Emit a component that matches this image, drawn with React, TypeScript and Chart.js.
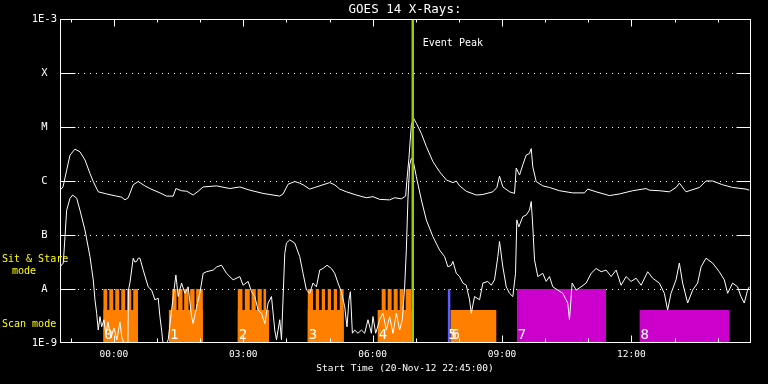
import { useEffect, useRef } from 'react';
import { Chart, registerables } from 'chart.js';

Chart.register(...registerables);

// Time axis: hours since start (20-Nov-12 22:45:00)
const X_MIN = 0;
const X_MAX = 16;
const hourTicks = [0.25, 1.25, 2.25, 3.25, 4.25, 5.25, 6.25, 7.25, 8.25, 9.25, 10.25, 11.25, 12.25, 13.25, 14.25, 15.25];
const majorTickHours = [1.25, 4.25, 7.25, 10.25, 13.25];
const majorTickLabels = ['00:00', '03:00', '06:00', '09:00', '12:00'];

// Flux axis (W/m^2), log scale
const yTickValues = [1e-9, 1e-8, 1e-7, 1e-6, 1e-5, 1e-4, 1e-3];
const yTickLabels = ['1E-9', 'A', 'B', 'C', 'M', 'X', '1E-3'];
const classLineValues = [1e-8, 1e-7, 1e-6, 1e-5, 1e-4];

// GOES 14 long channel (1-8 A): [hours since start, log10 flux]
const longChannel: [number, number][] = [
  [0.00, -6.17], [0.07, -6.11], [0.155, -5.80], [0.232, -5.52], [0.347, -5.41], [0.463, -5.46], [0.579, -5.61], [0.695, -5.86], [0.771, -6.01], [0.887, -6.20],
  [1.082, -6.24], [1.313, -6.28], [1.429, -6.30], [1.506, -6.35], [1.582, -6.31], [1.698, -6.07], [1.814, -6.01], [1.969, -6.09], [2.085, -6.14], [2.317, -6.22],
  [2.472, -6.28], [2.625, -6.28], [2.687, -6.14], [2.819, -6.18], [2.942, -6.19], [3.088, -6.26], [3.204, -6.19], [3.319, -6.11], [3.630, -6.09], [3.938, -6.14],
  [4.170, -6.11], [4.401, -6.17], [4.709, -6.23], [5.096, -6.28], [5.173, -6.24], [5.288, -6.06], [5.444, -6.01], [5.559, -6.04], [5.636, -6.07], [5.791, -6.15],
  [5.907, -6.12], [6.099, -6.07], [6.254, -6.03], [6.370, -6.07], [6.486, -6.15], [6.641, -6.20], [6.873, -6.26], [7.104, -6.31], [7.257, -6.29], [7.413, -6.34],
  [7.644, -6.35], [7.760, -6.31], [7.915, -6.33], [8.015, -6.28], [8.045, -5.98], [8.091, -5.58], [8.147, -4.96], [8.200, -4.84], [8.263, -4.93], [8.379, -5.12],
  [8.494, -5.36], [8.647, -5.64], [8.802, -5.83], [8.958, -5.98], [9.111, -6.03], [9.189, -6.00], [9.266, -6.09], [9.421, -6.19], [9.653, -6.26], [9.806, -6.25],
  [10.037, -6.20], [10.130, -6.12], [10.192, -5.91], [10.269, -6.11], [10.424, -6.20], [10.540, -6.23], [10.579, -5.76], [10.656, -5.89], [10.732, -5.70], [10.811, -5.52],
  [10.887, -5.49], [10.927, -5.40], [10.964, -5.74], [11.042, -6.01], [11.195, -6.09], [11.350, -6.12], [11.582, -6.18], [11.890, -6.22], [12.161, -6.22], [12.238, -6.15],
  [12.432, -6.20], [12.740, -6.27], [12.972, -6.24], [13.280, -6.18], [13.590, -6.14], [13.667, -6.17], [13.898, -6.18], [14.130, -6.20], [14.285, -6.12], [14.362, -6.04],
  [14.517, -6.20], [14.825, -6.12], [14.980, -6.00], [15.133, -6.00], [15.365, -6.07], [15.597, -6.12], [15.907, -6.15], [15.984, -6.17],
];

// GOES 14 short channel (0.5-4 A): [hours since start, log10 flux]
const shortChannel: [number, number][] = [
  [0.000, -7.59], [0.076, -7.52], [0.116, -7.03], [0.155, -6.54], [0.232, -6.32], [0.294, -6.26], [0.387, -6.32], [0.463, -6.54], [0.579, -6.91], [0.695, -7.40],
  [0.771, -7.83], [0.811, -8.20], [0.850, -8.45], [0.887, -8.76], [0.927, -8.51], [0.966, -8.70], [1.019, -8.57], [1.066, -8.85], [1.112, -8.61], [1.181, -8.91],
  [1.251, -8.72], [1.320, -8.94], [1.390, -8.61], [1.436, -8.91], [1.506, -9.04], [1.575, -9.04], [1.587, -8.02], [1.621, -7.89], [1.698, -7.43], [1.737, -7.50],
  [1.777, -7.49], [1.814, -7.43], [1.853, -7.43], [1.930, -7.65], [2.045, -7.96], [2.124, -8.02], [2.201, -8.20], [2.277, -8.17], [2.317, -8.51], [2.356, -8.76],
  [2.393, -9.04], [2.455, -9.04], [2.509, -8.94], [2.625, -8.14], [2.687, -7.74], [2.740, -8.14], [2.819, -7.89], [2.896, -8.08], [2.972, -7.96], [3.051, -8.51],
  [3.088, -8.64], [3.167, -8.33], [3.243, -8.08], [3.319, -7.71], [3.398, -7.68], [3.551, -7.65], [3.637, -7.59], [3.746, -7.56], [3.861, -7.71], [4.014, -7.83],
  [4.170, -7.77], [4.246, -7.93], [4.362, -7.86], [4.441, -8.05], [4.517, -8.14], [4.593, -8.39], [4.672, -8.45], [4.749, -8.64], [4.825, -8.26], [4.904, -8.14],
  [4.980, -8.76], [5.020, -8.94], [5.096, -8.57], [5.136, -8.94], [5.212, -7.34], [5.251, -7.15], [5.328, -7.09], [5.444, -7.15], [5.559, -7.40], [5.636, -7.71],
  [5.715, -8.02], [5.791, -8.08], [5.867, -7.89], [5.946, -7.96], [6.023, -7.65], [6.099, -7.62], [6.192, -7.56], [6.294, -7.62], [6.370, -7.71], [6.447, -7.89],
  [6.525, -8.05], [6.602, -8.33], [6.655, -8.70], [6.701, -8.20], [6.734, -8.05], [6.780, -8.82], [6.834, -8.76], [6.910, -8.82], [6.989, -8.76], [7.065, -8.82],
  [7.142, -8.57], [7.220, -8.82], [7.257, -8.51], [7.320, -8.82], [7.413, -8.57], [7.489, -8.45], [7.568, -8.76], [7.644, -8.51], [7.721, -8.82], [7.800, -8.45],
  [7.876, -8.76], [7.938, -8.57], [7.992, -7.96], [8.031, -7.28], [8.068, -6.35], [8.108, -5.70], [8.147, -5.58], [8.200, -5.67], [8.263, -5.92], [8.379, -6.35],
  [8.494, -6.72], [8.647, -7.03], [8.802, -7.28], [8.918, -7.40], [8.995, -7.59], [9.073, -7.56], [9.111, -7.49], [9.189, -7.71], [9.266, -7.77], [9.342, -7.89],
  [9.421, -7.93], [9.497, -8.20], [9.537, -8.45], [9.613, -8.14], [9.729, -8.20], [9.806, -7.89], [9.921, -7.86], [10.000, -7.93], [10.076, -7.83], [10.153, -7.40],
  [10.192, -7.12], [10.269, -7.59], [10.348, -7.96], [10.424, -8.08], [10.500, -8.14], [10.563, -7.71], [10.593, -6.72], [10.639, -6.85], [10.732, -6.66], [10.811, -6.63],
  [10.887, -6.54], [10.927, -6.38], [10.964, -6.85], [11.003, -7.46], [11.080, -7.77], [11.195, -7.71], [11.274, -7.86], [11.350, -7.77], [11.427, -7.96], [11.543, -8.02],
  [11.658, -8.08], [11.774, -8.26], [11.814, -8.57], [11.876, -7.89], [11.969, -8.02], [12.084, -7.96], [12.200, -7.89], [12.316, -7.71], [12.432, -7.62], [12.548, -7.68],
  [12.664, -7.65], [12.780, -7.77], [12.896, -7.65], [13.011, -7.93], [13.127, -7.77], [13.243, -7.86], [13.359, -7.80], [13.475, -7.93], [13.628, -7.68], [13.743, -7.80],
  [13.898, -7.89], [14.014, -8.08], [14.090, -8.39], [14.169, -8.08], [14.285, -7.83], [14.362, -7.52], [14.438, -7.89], [14.554, -8.26], [14.670, -8.02], [14.786, -7.89],
  [14.865, -7.59], [14.980, -7.43], [15.133, -7.52], [15.288, -7.68], [15.404, -7.83], [15.481, -8.08], [15.597, -7.89], [15.712, -7.96], [15.791, -8.14], [15.867, -8.26],
  [15.944, -8.02], [15.984, -7.96],
];

// Observation modes: [start hour, end hour]
const STARE_LEVEL = 1e-8;
const SCAN_LEVEL = 4.1e-9;
const orangeScan: [number, number][] = [[1.003, 1.807], [2.525, 3.312], [4.123, 4.848], [5.745, 6.578], [7.366, 8.154], [9.057, 10.123]];
const orangeStare: [number, number][] = [
  [1.003, 1.096], [1.142, 1.235], [1.281, 1.374], [1.420, 1.513], [1.559, 1.652], [1.698, 1.807],
  [2.601, 2.703], [2.740, 2.842], [2.879, 2.981], [3.018, 3.120], [3.157, 3.312],
  [4.123, 4.232], [4.285, 4.401], [4.441, 4.540], [4.580, 4.679], [4.719, 4.779],
  [5.745, 5.867], [5.930, 6.006], [6.069, 6.146], [6.208, 6.284], [6.347, 6.423], [6.486, 6.578],
  [7.459, 7.551], [7.598, 7.690], [7.737, 7.830], [7.876, 7.969], [8.015, 8.154],
];
const blueStare: [number, number][] = [[8.988, 9.057]];
const magentaStare: [number, number][] = [[10.593, 12.664]];
const magentaScan: [number, number][] = [[13.435, 15.520]];

const groupStarts = [1.003, 2.525, 4.123, 5.745, 7.366, 8.988, 9.057, 10.593, 13.435];
const groupLabels = ['0', '1', '2', '3', '4', '5', '6', '7', '8'];

const eventPeakHour = 8.18;
const eventLabel = 'Event Peak';
const chartTitle = 'GOES 14 X-Rays:';
const xAxisTitle = 'Start Time (20-Nov-12 22:45:00)';

const MONO = '"DejaVu Sans Mono", monospace';
const ORANGE = '#ff8000';
const MAGENTA = '#cc00cc';
const BLUE = '#5c5cff';
const GREEN = '#9acd00';
const YELLOW = '#ffff00';

function toPoints(series: [number, number][]) {
  return series.map(([h, lg]) => ({ x: h, y: Math.pow(10, lg) }));
}

function rectPoints(intervals: [number, number][], level: number) {
  const floor = yTickValues[0];
  const pts: { x: number; y: number }[] = [];
  for (const [a, b] of intervals) {
    pts.push({ x: a, y: floor }, { x: a, y: level }, { x: b, y: level }, { x: b, y: floor });
  }
  return pts;
}

function fillDataset(intervals: [number, number][], level: number, color: string) {
  return {
    data: rectPoints(intervals, level),
    borderColor: 'rgba(0,0,0,0)',
    borderWidth: 0,
    backgroundColor: color,
    fill: 'start',
    stepped: true,
    pointRadius: 0,
    tension: 0,
  };
}

const overlayPlugin = {
  id: 'goesOverlay',
  beforeDraw(chart: any) {
    const { ctx, width, height } = chart;
    ctx.save();
    ctx.fillStyle = '#000000';
    ctx.fillRect(0, 0, width, height);
    ctx.restore();
  },
  beforeDatasetsDraw(chart: any) {
    const { ctx, chartArea: a, scales } = chart;
    const y = scales.y;
    ctx.save();
    ctx.strokeStyle = '#ffffff';
    ctx.lineWidth = 1;
    ctx.setLineDash([1, 5]);
    for (const v of classLineValues) {
      const py = Math.round(y.getPixelForValue(v)) + 0.5;
      ctx.beginPath();
      ctx.moveTo(a.left + 18, py);
      ctx.lineTo(a.right - 14, py);
      ctx.stroke();
    }
    ctx.restore();
  },
  afterDatasetsDraw(chart: any) {
    const { ctx, chartArea: a, scales } = chart;
    const x = scales.x;
    const y = scales.y;
    const line = (x1: number, y1: number, x2: number, y2: number) => {
      ctx.beginPath();
      ctx.moveTo(x1, y1);
      ctx.lineTo(x2, y2);
      ctx.stroke();
    };
    ctx.save();
    ctx.strokeStyle = '#ffffff';
    ctx.lineWidth = 1;
    ctx.setLineDash([]);
    const L = Math.round(a.left) + 0.5;
    const R = Math.round(a.right) + 0.5;
    const T = Math.round(a.top) + 0.5;
    const B = Math.round(a.bottom) - 0.5;
    ctx.strokeRect(L, T, R - L, B - T);
    for (const v of classLineValues) {
      const py = Math.round(y.getPixelForValue(v)) + 0.5;
      line(L, py, L + 15, py);
      line(R - 14, py, R, py);
    }
    for (const h of hourTicks) {
      const px = Math.round(x.getPixelForValue(h)) + 0.5;
      const major = majorTickHours.includes(h);
      line(px, B, px, B - (major ? 7 : 4));
      line(px, T, px, T + (major ? 7 : 3));
    }
    ctx.fillStyle = '#ffffff';
    ctx.textAlign = 'left';
    ctx.textBaseline = 'middle';
    ctx.font = `10px ${MONO}`;
    ctx.fillText(eventLabel, x.getPixelForValue(eventPeakHour) + 10, 43);
    ctx.font = `14px ${MONO}`;
    ctx.textBaseline = 'alphabetic';
    groupStarts.forEach((h, i) => {
      ctx.fillText(groupLabels[i], x.getPixelForValue(h) + 1, a.bottom - 4);
    });
    ctx.restore();
  },
  afterDraw(chart: any) {
    const { ctx, chartArea: a } = chart;
    ctx.save();
    ctx.fillStyle = '#ffffff';
    ctx.textAlign = 'center';
    ctx.textBaseline = 'middle';
    ctx.font = `12.5px ${MONO}`;
    ctx.fillText(chartTitle, (a.left + a.right) / 2, 10);
    ctx.fillStyle = YELLOW;
    ctx.textAlign = 'left';
    ctx.font = `10px ${MONO}`;
    ctx.fillText('Sit & Stare', 2, 259);
    ctx.fillText('mode', 12, 271);
    ctx.fillText('Scan mode', 2, 324);
    ctx.restore();
  },
};

export default function App() {
  const ref = useRef<HTMLCanvasElement | null>(null);
  useEffect(() => {
    document.documentElement.style.background = '#000';
    document.body.style.margin = '0';
    document.body.style.background = '#000';
    const canvas = ref.current;
    if (!canvas) return;
    const chart = new Chart(canvas, {
      type: 'line',
      data: {
        datasets: [
          {
            data: [{ x: eventPeakHour, y: yTickValues[0] }, { x: eventPeakHour, y: yTickValues[yTickValues.length - 1] }],
            borderColor: GREEN,
            borderWidth: 2.5,
            pointRadius: 0,
            fill: false,
          },
          { data: toPoints(longChannel), borderColor: '#ffffff', borderWidth: 1, pointRadius: 0, fill: false, tension: 0 },
          { data: toPoints(shortChannel), borderColor: '#ffffff', borderWidth: 1, pointRadius: 0, fill: false, tension: 0 },
          fillDataset(blueStare, STARE_LEVEL, BLUE),
          fillDataset(magentaStare, STARE_LEVEL, MAGENTA),
          fillDataset(magentaScan, SCAN_LEVEL, MAGENTA),
          fillDataset(orangeStare, STARE_LEVEL, ORANGE),
          fillDataset(orangeScan, SCAN_LEVEL, ORANGE),
        ] as any,
      },
      options: {
        responsive: false,
        animation: false,
        devicePixelRatio: 1,
        events: [],
        layout: { padding: { top: 19, right: 18, left: 0, bottom: 0 } },
        elements: { point: { radius: 0 }, line: { tension: 0 } },
        plugins: {
          legend: { display: false },
          tooltip: { enabled: false },
          title: { display: false },
        },
        scales: {
          x: {
            type: 'linear',
            min: X_MIN,
            max: X_MAX,
            afterBuildTicks: (s: any) => {
              s.ticks = hourTicks.map((v) => ({ value: v }));
            },
            afterFit: (s: any) => {
              s.height = 41;
            },
            ticks: {
              autoSkip: false,
              maxRotation: 0,
              minRotation: 0,
              color: '#ffffff',
              padding: 6,
              font: { family: MONO, size: 9.5 },
              callback: (v: any) => {
                const i = majorTickHours.findIndex((m) => Math.abs(m - Number(v)) < 1e-6);
                return i >= 0 ? majorTickLabels[i] : '';
              },
            },
            grid: { display: false, drawTicks: false },
            border: { display: false },
            title: {
              display: true,
              text: xAxisTitle,
              color: '#ffffff',
              font: { family: MONO, size: 9.5 },
              padding: { top: 0, bottom: 10 },
            },
          },
          y: {
            type: 'logarithmic',
            min: yTickValues[0],
            max: yTickValues[yTickValues.length - 1],
            afterBuildTicks: (s: any) => {
              s.ticks = yTickValues.map((v) => ({ value: v }));
            },
            afterFit: (s: any) => {
              s.width = 60;
            },
            ticks: {
              autoSkip: false,
              color: '#ffffff',
              padding: 3,
              crossAlign: 'center',
              font: { family: MONO, size: 10.5 },
              callback: (_v: any, i: number) => yTickLabels[i] ?? '',
            },
            grid: { display: false, drawTicks: false },
            border: { display: false },
          },
        },
      } as any,
      plugins: [overlayPlugin],
    });
    return () => chart.destroy();
  }, []);
  return (
    <div style={{ position: 'fixed', left: 0, top: 0, width: 768, height: 384, background: '#000' }}>
      <canvas ref={ref} width={768} height={384} style={{ display: 'block', width: 768, height: 384 }} />
    </div>
  );
}
